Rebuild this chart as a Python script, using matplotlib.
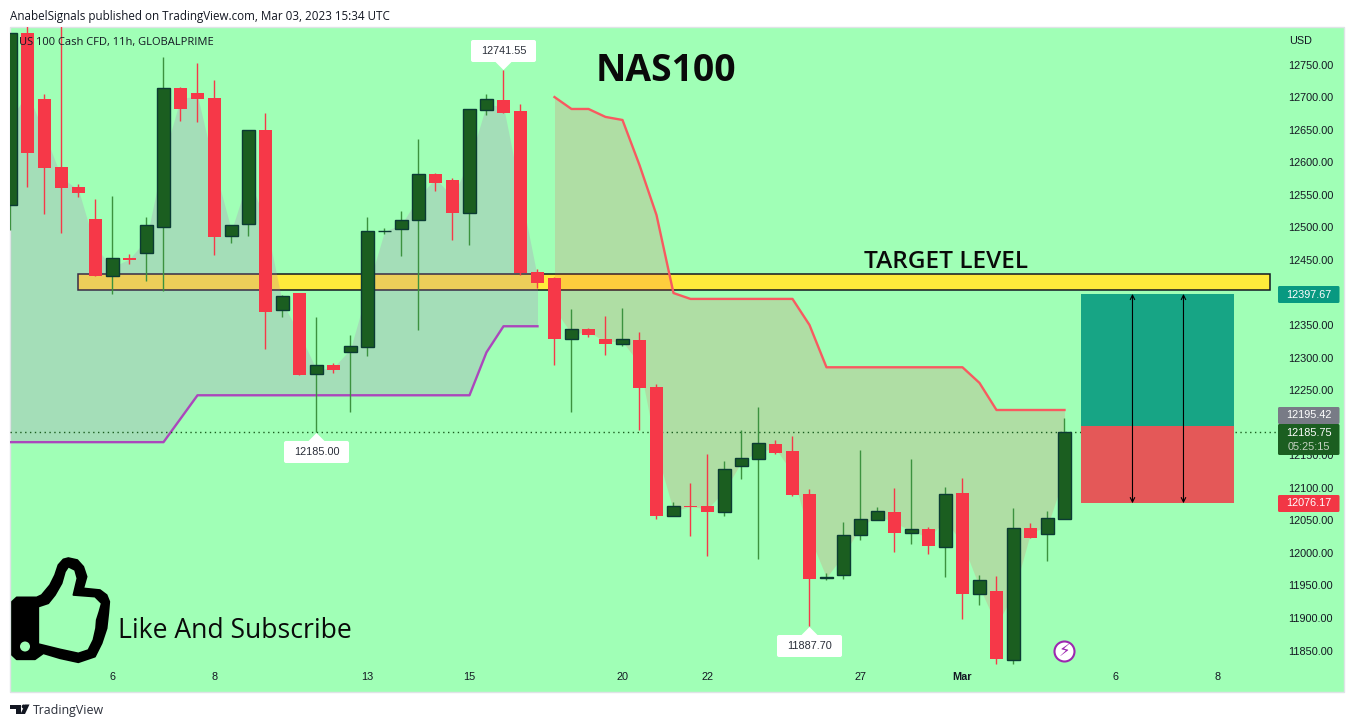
import matplotlib
matplotlib.use("Agg")
import matplotlib.pyplot as plt
import numpy as np
from matplotlib.patches import Rectangle, FancyBboxPatch, PathPatch, Circle, Polygon
from matplotlib.path import Path
from matplotlib.transforms import Affine2D

W, H = 1354, 727
top_body = [12798.4,12798.4,12697.0,12592.6,12561.9,12512.7,12452.8,12452.8,12503.5,12713.9,12713.9,12706.2,12698.5,12503.5,12649.4,12649.4,12394.5,12399.1,12288.5,12288.5,12317.7,12494.3,12494.3,12511.2,12581.8,12581.8,12572.6,12681.7,12697.0,12695.5,12678.6,12431.3,12422.1,12343.8,12343.8,12328.4,12328.4,12326.9,12254.7,12072.0,12072.0,12072.0,12128.8,12145.7,12168.7,12167.2,12156.4,12090.4,11962.9,12027.4,12052.0,12064.3,12062.7,12036.6,12036.6,12090.4,12091.9,11958.3,11941.4,12038.2,12038.2,12053.5,12185.75]
bot_body = [12534.2,12614.1,12591.0,12560.3,12552.7,12425.2,12425.2,12449.8,12460.5,12500.4,12681.7,12697.0,12485.1,12486.6,12504.3,12369.9,12372.9,12273.1,12274.7,12280.8,12308.5,12316.1,12493.6,12497.4,12511.2,12568.0,12521.9,12521.9,12680.1,12675.5,12429.8,12414.4,12328.4,12328.4,12334.6,12320.7,12320.7,12253.2,12056.6,12056.6,12070.4,12062.7,12062.7,12133.4,12144.1,12153.3,12088.8,11959.8,11961.4,11966.0,12027.4,12050.5,12030.5,12030.5,12010.5,12009.0,11936.8,11936.8,11837.0,11835.4,12022.8,12028.9,12052.0]
highs = [12798.4,12830.0,12704.7,12830.0,12566.5,12543.4,12548.1,12459.0,12515.8,12761.5,12715.4,12752.3,12726.2,12503.5,12649.4,12675.5,12396.0,12399.1,12362.2,12291.6,12334.6,12515.8,12498.9,12525.0,12635.6,12583.4,12575.7,12681.7,12704.7,12741.55,12689.3,12436.0,12423.6,12374.5,12345.3,12363.7,12376.0,12339.2,12259.3,12078.1,12107.3,12151.8,12141.0,12188.7,12224.0,12173.3,12179.4,12098.0,11969.0,12047.4,12158.0,12070.4,12099.6,12144.1,12039.7,12101.1,12115.0,11966.0,11964.5,12068.9,12045.8,12064.3,12207.1]
lows = [12495.8,12561.9,12520.4,12491.2,12546.5,12425.2,12397.6,12443.6,12417.5,12402.1,12663.2,12661.7,12457.4,12475.9,12486.6,12313.1,12362.2,12273.1,12185.0,12276.2,12216.3,12302.3,12489.7,12455.9,12342.3,12555.7,12480.5,12472.8,12672.4,12675.5,12426.7,12406.8,12288.5,12216.3,12331.5,12303.8,12317.7,12188.7,12052.0,12056.6,12025.9,11995.2,12056.6,12113.4,11990.6,12151.8,12087.3,11887.7,11958.3,11959.8,12019.7,12050.5,12001.3,12013.6,11998.2,11962.9,11898.4,11920.0,11829.3,11829.3,12022.8,11987.5,12052.0]
is_up = [1,0,0,0,0,0,1,0,1,1,0,0,0,1,1,0,1,0,1,0,1,1,1,1,1,0,0,1,1,0,0,0,0,1,0,0,1,0,0,1,0,0,1,1,1,0,0,0,1,1,1,1,0,1,0,1,0,1,0,1,0,1,1]

trend_up = [12170.0]*10 + [12206.0, 12242.0] + [12242.0]*16 + [12308.0, 12348.0, 12348.0, 12348.0]
trend_down = [12700.0,12681.7,12681.7,12669.5,12664.8,12595.6,12518.9,12399.0,12390.0,12390.0,12390.0,12390.0,12390.0,12390.0,12390.0,12350.0,12285.0,12285.0,12285.0,12285.0,12285.0,12285.0,12285.0,12285.0,12285.0,12261.0,12219.4,12219.4,12219.4,12219.4,12219.4]

price_ticks = list(range(11850, 12751, 50))
date_pos = [6, 12, 21, 27, 36, 41, 50, 56, 65, 71]
date_labels = ["6", "8", "13", "15", "20", "22", "27", "Mar", "6", "8"]

last_price = 12185.75
target_top, target_bottom = 12429.0, 12403.7
stop_level, entry_level, take_level = 12076.17, 12195.42, 12397.67

BG = "#a0ffb6"
GREEN = "#1b5e20"; GREEN_EDGE = "#0b3b33"; GREEN_WICK = "#3c923f"; RED = "#f63848"
INK = "#131722"
plt.rcParams["font.family"] = ["Open Sans", "DejaVu Sans"]

fig = plt.figure(figsize=(W/100, H/100), dpi=100, facecolor="white")
PX = Affine2D().scale(1/W, -1/H).translate(0, 1) + fig.transFigure

fig.add_artist(Rectangle((10, 27), 1334, 665, transform=PX, fc=BG, ec="#dfe3e6", lw=1, zorder=-1))
ax = fig.add_axes([10/W, (H-692)/H, 1268/W, 665/H], facecolor="none")
ax.set_xlim(-0.0294, 74.56)
ax.set_ylim(11786.3, 12807.6)
for s in ax.spines.values():
    s.set_visible(False)

idx = np.arange(len(top_body))
top = np.array(top_body); bot = np.array(bot_body); up = np.array(is_up, bool)
mid = (top + bot) / 2

ax.add_patch(Rectangle((4, target_bottom), 70.1, target_top-target_bottom, fc="#ffeb3b", ec=INK, lw=1.1, zorder=1))
nu = len(trend_up)
ax.fill_between(idx[:nu], trend_up, mid[:nu], color=(181/255, 113/255, 191/255, .23), lw=0, zorder=1.5)
ax.fill_between(idx[nu:], trend_down, mid[nu:], color=(254/255, 61/255, 76/255, .17), lw=0, zorder=1.5)
ax.plot(idx[:nu], trend_up, color="#ab47bc", lw=1.7, zorder=2)
ax.plot(idx[nu:], trend_down, color="#f85a60", lw=1.7, zorder=2)
ax.axhline(last_price, color="#1b5e20", lw=1, ls=(0, (1, 2.5)), zorder=2.5)

ax.vlines(idx[up], np.array(lows)[up], np.array(highs)[up], color=GREEN_WICK, lw=1, zorder=3)
ax.vlines(idx[~up], np.array(lows)[~up], np.array(highs)[~up], color=RED, lw=1, zorder=3)
ax.bar(idx[~up], (top-bot)[~up], bottom=bot[~up], width=0.76, color=RED, lw=0, zorder=3.5)
ax.bar(idx[up], (top-bot)[up], bottom=bot[up], width=0.71, color=GREEN, edgecolor=GREEN_EDGE, lw=1, zorder=3.5)

# long position tool
ax.add_patch(Rectangle((63, entry_level), 9, take_level-entry_level, fc="#17a585", lw=0, zorder=4))
ax.add_patch(Rectangle((63, stop_level), 9, entry_level-stop_level, fc="#e45858", lw=0, zorder=4))
for xa in (66, 69):
    ax.annotate("", xy=(xa, take_level), xytext=(xa, stop_level), zorder=5,
                arrowprops=dict(arrowstyle="<->", color="black", lw=0.8, mutation_scale=8, shrinkA=0, shrinkB=0))

# axes
ax.yaxis.tick_right()
ax.set_yticks(price_ticks)
ax.set_yticklabels([f"{p:.2f}" for p in price_ticks], family="Liberation Sans", fontsize=7.8, color=INK)
ax.tick_params(axis="y", length=0, pad=7.5)
ax.set_xticks(date_pos)
ax.set_xticklabels(date_labels, family="Liberation Sans", fontsize=7.8, color=INK)
ax.tick_params(axis="x", length=0, direction="in", pad=-14.5)
for lab, txt in zip(ax.get_xticklabels(), date_labels):
    if txt == "Mar":
        lab.set_fontweight("bold")

# price tags
def tag(y0, y1, colour):
    fig.add_artist(FancyBboxPatch((1278, y0), 61.5, y1-y0, boxstyle="round,pad=0,rounding_size=1.5",
                                  transform=PX, fc=colour, ec="none", zorder=5))
def label(x, y, s, **kw):
    kw.setdefault("color", INK); kw.setdefault("va", "center"); kw.setdefault("zorder", 6)
    return fig.text(x, y, s, transform=PX, **kw)

tag(286, 303, "#089981"); tag(407, 424, "#787b86"); tag(424, 455, "#1b5e20"); tag(495, 512, "#f23645")
for y, s, c in [(294.5, f"{take_level:.2f}", "white"), (415.5, f"{entry_level:.2f}", "white"),
                (432.5, f"{last_price:.2f}", "white"), (447, "05:25:15", "#c5d2c2"), (503.5, f"{stop_level:.2f}", "white")]:
    label(1309, y, s, color=c, ha="center", family="Liberation Sans", fontsize=7.8)

# high / low callouts
def callout(i, price, y_box, pointing_down, text):
    cx = 10.5 + 17*i
    tri = [(cx-8, y_box+22), (cx+8, y_box+22), (cx, y_box+30)] if pointing_down else [(cx-8, y_box), (cx+8, y_box), (cx, y_box-8)]
    fig.add_artist(Polygon(tri, transform=PX, fc="white", ec="none", zorder=5))
    fig.add_artist(FancyBboxPatch((cx-32.5, y_box), 65, 22, boxstyle="round,pad=0,rounding_size=2",
                                  transform=PX, fc="white", ec="none", zorder=5))
    label(cx, y_box+11, text, ha="center", family="Liberation Sans", fontsize=7.8, color="#2a2e39")

callout(29, 12741.55, 40, True, "12741.55")
callout(18, 12185.00, 441, False, "12185.00")
callout(47, 11887.70, 635, False, "11887.70")

# texts
label(10, 16.5, "AnabelSignals published on TradingView.com, Mar 03, 2023 15:34 UTC", fontsize=8.35)
label(19, 43, "US 100 Cash CFD, 11h, GLOBALPRIME", fontsize=8.05)
label(1289, 41, "USD", family="Liberation Sans", fontsize=7.8)
label(596, 71, "NAS100", fontsize=26.8, fontweight="bold", color="#0a0a0a")
label(864, 262, "TARGET LEVEL", fontsize=17.6, fontweight="semibold", color="#0a0a0a")
label(118, 631, "Like And Subscribe", fontsize=19.1, color="#0a0a0a")
label(33, 710.5, "TradingView", fontsize=8.9, color="#2a2e39")

# thumbs-up icon
outer = [(50,172),(110,172),(125,165),(150,135),(165,105),(175,75),(190,58),(205,54),(232,60),(250,80),(260,110),(250,145),(300,150),(320,165),(328,185),(325,220),(320,265),(305,310),(285,350),(235,367),(180,355),(130,340),(105,358),(50,358),(36,345),(36,185),(50,172)]
inner = [(115,200),(145,190),(165,165),(185,130),(195,95),(205,80),(225,90),(232,115),(220,165),(285,170),(305,190),(298,215),(290,240),(288,265),(280,300),(265,330),(235,340),(180,328),(115,312),(115,200)]
def z2p(pts):
    return [(x/3, 540+y/3) for x, y in pts]
verts, codes = [], []
for poly in (outer, inner[::-1]):
    p = z2p(poly)
    verts += p
    codes += [Path.MOVETO] + [Path.LINETO]*(len(p)-2) + [Path.CLOSEPOLY]
fig.add_artist(PathPatch(Path(verts, codes), transform=PX, fc="black", ec="black", lw=1.2, joinstyle="round", zorder=4))
fig.add_artist(Circle((25, 646.5), 5, transform=PX, fc=BG, ec="none", zorder=5))

# TradingView logo
for poly in ([(10,704.5),(20.5,704.5),(20.5,714),(15.5,714),(15.5,708.5),(10,708.5)],
             [(29.5,704.5),(25,714),(20.5,714),(25,704.5)]):
    fig.add_artist(Polygon(poly, transform=PX, fc=INK, ec="none", zorder=5))
fig.add_artist(Circle((23.7, 706.5), 2, transform=PX, fc=INK, ec="none", zorder=5))

# lightning badge
fig.add_artist(Circle((1064.5, 651.5), 10, transform=PX, fc="white", ec="#9c27b0", lw=1.5, zorder=5))
label(1064.5, 651.5, "\u26a1", family="DejaVu Sans", fontsize=12, ha="center", color="#9c27b0")

fig.savefig("out.png", dpi=100)
